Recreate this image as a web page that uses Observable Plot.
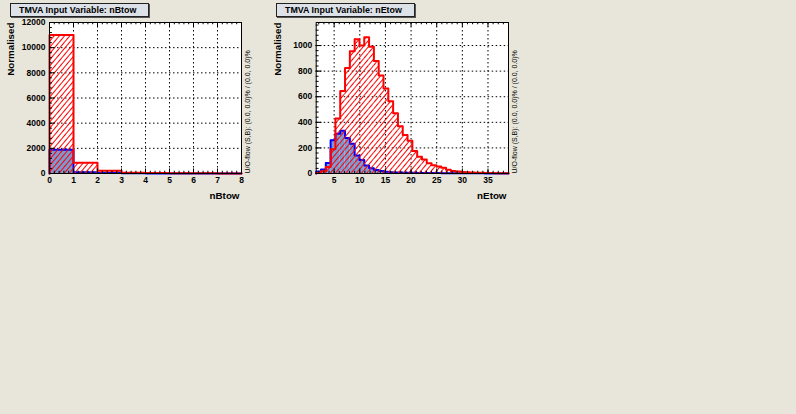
<!DOCTYPE html>
<html>
<head>
<meta charset="utf-8">
<script src="https://cdn.jsdelivr.net/npm/d3@7"></script>
<script src="https://cdn.jsdelivr.net/npm/@observablehq/plot@0.6"></script>
<style>
  html, body { margin: 0; padding: 0; background: #e8e6da; }
  #canvas { position: relative; width: 796px; height: 414px; background: #e8e6da; overflow: hidden; font-family: "Liberation Sans", Arial, sans-serif; }
  .panel { position: absolute; top: 0; }
  .title { position: absolute; top: 3px; height: 12px; box-sizing: content-box; background: #dde2e8; border: 1px solid #222; box-shadow: 1px 1px 0 #555;
           font: bold 8.9px "Liberation Sans", Arial, sans-serif; line-height: 12px; padding-left: 8px; color: #000; white-space: nowrap; }
</style>
</head>
<body>
<div id="canvas">
  <svg width="0" height="0" style="position:absolute">
    <defs>
      <pattern id="hatch" patternUnits="userSpaceOnUse" width="4" height="4" patternTransform="rotate(40)">
        <line x1="0.5" y1="0" x2="0.5" y2="4" stroke="#ff0000" stroke-width="1"></line>
      </pattern>
    </defs>
  </svg>
</div>
<script>
// ---------------- data ----------------
// nBtow histogram (8 bins over [0, 8])
const nBtowRange = [0, 8];
const nBtowBins = 8;
const nBtowSignal     = [1880, 100, 30, 10, 5, 3, 2, 1];
const nBtowBackground = [11000, 850, 210, 60, 35, 20, 10, 5];
const nBtowXTicks = [0, 1, 2, 3, 4, 5, 6, 7, 8];
const nBtowYTicks = [0, 2000, 4000, 6000, 8000, 10000, 12000];
const nBtowYMax = 12000;

// nEtow histogram (40 bins over [1.5, 39])
const nEtowRange = [1.5, 39];
const nEtowBins = 40;
const nEtowSignal = [15, 32, 83, 260, 310, 335, 278, 233, 140, 105,
                     62, 42, 28, 20, 14, 10, 8, 7, 6, 5,
                     5, 4, 4, 3, 3, 3, 2, 2, 2, 2,
                     1, 1, 1, 1, 1, 0.5, 0.5, 0.5, 0.5, 0.5];
const nEtowBackground = [4, 18, 50, 190, 430, 645, 825, 955, 1050, 1000,
                         1065, 990, 880, 765, 665, 565, 470, 370, 300, 255,
                         175, 130, 110, 80, 65, 55, 45, 30, 20, 15,
                         12, 10, 8, 6, 5, 4, 3, 2, 2, 1];
const nEtowXTicks = [5, 10, 15, 20, 25, 30, 35];
const nEtowYTicks = [0, 200, 400, 600, 800, 1000];
const nEtowYMax = 1180;

const titles = ["TMVA Input Variable: nBtow", "TMVA Input Variable: nEtow"];
const xTitles = ["nBtow", "nEtow"];
const yTitle = "Normalised";
const flowText = "U/O-flow (S,B): (0.0, 0.0)% / (0.0, 0.0)%";

// ---------------- drawing ----------------
const FONT = "Liberation Sans, Arial, sans-serif";

function panel(cfg) {
  const {width, height, mL, mR, mT, mB, xDomain, yDomain, nbins, sig, bkg,
         xMajor, xMinor, yMajor, yMinor, xTitle} = cfg;
  const innerW = width - mL - mR, innerH = height - mT - mB;
  const w = (xDomain[1] - xDomain[0]) / nbins;
  const bins = sig.map((s, i) => ({x1: xDomain[0] + i * w, x2: xDomain[0] + (i + 1) * w, s, b: bkg[i]}));
  const outline = key => [
    {x: xDomain[0], y: 0},
    ...bins.map(d => ({x: d.x1, y: d[key]})),
    {x: xDomain[1], y: bins[bins.length - 1][key]},
    {x: xDomain[1], y: 0}
  ];
  const yTickLen = 0.03 * innerW, xTickLen = 0.03 * innerH;
  const xGrid = xMajor.filter(v => v > xDomain[0] && v < xDomain[1]);
  const yGrid = yMajor.filter(v => v > yDomain[0] && v < yDomain[1]);
  return Plot.plot({
    width, height,
    marginLeft: mL, marginRight: mR, marginTop: mT, marginBottom: mB,
    x: {domain: xDomain, axis: null},
    y: {domain: yDomain, axis: null},
    style: {background: "transparent", fontFamily: FONT, overflow: "visible"},
    marks: [
      Plot.frame({fill: "white", stroke: null}),
      Plot.ruleX(xGrid, {x: d => d, stroke: "black", strokeDasharray: "1.5,2.5", strokeWidth: 1}),
      Plot.ruleY(yGrid, {y: d => d, stroke: "black", strokeDasharray: "1.5,2.5", strokeWidth: 1}),
      Plot.rectY(bins, {x1: "x1", x2: "x2", y: "s", fill: "#7d99d1", inset: 0}),
      Plot.line(outline("s"), {x: "x", y: "y", curve: "step-after", stroke: "#0000ff", strokeWidth: 2}),
      Plot.rectY(bins, {x1: "x1", x2: "x2", y: "b", fill: "url(#hatch)", inset: 0}),
      Plot.line(outline("b"), {x: "x", y: "y", curve: "step-after", stroke: "#ff0000", strokeWidth: 2}),
      Plot.frame({stroke: "black", strokeWidth: 1}),
      // ticks (inward)
      Plot.tickY(yMajor, {y: d => d, insetRight: innerW - yTickLen, stroke: "black"}),
      Plot.tickY(yMinor, {y: d => d, insetRight: innerW - yTickLen / 2, stroke: "black"}),
      Plot.tickX(xMajor, {x: d => d, insetTop: innerH - xTickLen, stroke: "black"}),
      Plot.tickX(xMinor, {x: d => d, insetTop: innerH - xTickLen / 2, stroke: "black"}),
      Plot.tickX(xMajor, {x: d => d, insetBottom: innerH - xTickLen, stroke: "black"}),
      Plot.tickX(xMinor, {x: d => d, insetBottom: innerH - xTickLen / 2, stroke: "black"}),
      // tick labels
      Plot.text(yMajor, {y: d => d, text: d => String(d), frameAnchor: "left", textAnchor: "end", lineAnchor: "middle",
                         dx: -4, fontSize: 8.5, fontWeight: "bold", fill: "black"}),
      Plot.text(xMajor, {x: d => d, text: d => String(d), frameAnchor: "bottom", textAnchor: "middle", lineAnchor: "middle",
                         dy: 6.5, fontSize: 8.5, fontWeight: "bold", fill: "black"}),
      // axis titles
      Plot.text([xTitle], {text: d => d, frameAnchor: "bottom-right", textAnchor: "end", lineAnchor: "middle",
                           dy: 22, dx: -2, fontSize: 9.8, fontWeight: "bold", fill: "black"}),
      Plot.text([yTitle], {text: d => d, frameAnchor: "top-left", textAnchor: "end", lineAnchor: "middle", rotate: -90,
                           dx: -38.5, dy: 0, fontSize: 9.8, fontWeight: "bold", fill: "black"}),
      Plot.text([flowText], {text: d => d, frameAnchor: "bottom-right", textAnchor: "start", lineAnchor: "middle", rotate: -90,
                             dx: 6.5, fontSize: 7, fill: "black"})
    ]
  });
}

const canvas = document.getElementById("canvas");

function place(el, left) {
  el.classList.add("panel");
  el.style.left = left + "px";
  canvas.appendChild(el);
}

const p1 = panel({
  width: 260, height: 210, mL: 49, mR: 19, mT: 22, mB: 37,
  xDomain: nBtowRange, yDomain: [0, nBtowYMax], nbins: nBtowBins,
  sig: nBtowSignal, bkg: nBtowBackground,
  xMajor: nBtowXTicks, xMinor: d3.range(0, 8.0001, 0.2),
  yMajor: nBtowYTicks, yMinor: d3.range(0, 12001, 400),
  xTitle: xTitles[0]
});
place(p1, 0);

const p2 = panel({
  width: 264, height: 210, mL: 49.7, mR: 22, mT: 22, mB: 37,
  xDomain: nEtowRange, yDomain: [0, nEtowYMax], nbins: nEtowBins,
  sig: nEtowSignal, bkg: nEtowBackground,
  xMajor: nEtowXTicks, xMinor: d3.range(2, 39, 1),
  yMajor: nEtowYTicks, yMinor: d3.range(0, 1161, 40),
  xTitle: xTitles[1]
});
place(p2, 266);

// title boxes
[[10, 129, titles[0]], [276, 129, titles[1]]].forEach(([left, w, t]) => {
  const d = document.createElement("div");
  d.className = "title";
  d.style.left = left + "px";
  d.style.width = w + "px";
  d.textContent = t;
  canvas.appendChild(d);
});
</script>
</body>
</html>
